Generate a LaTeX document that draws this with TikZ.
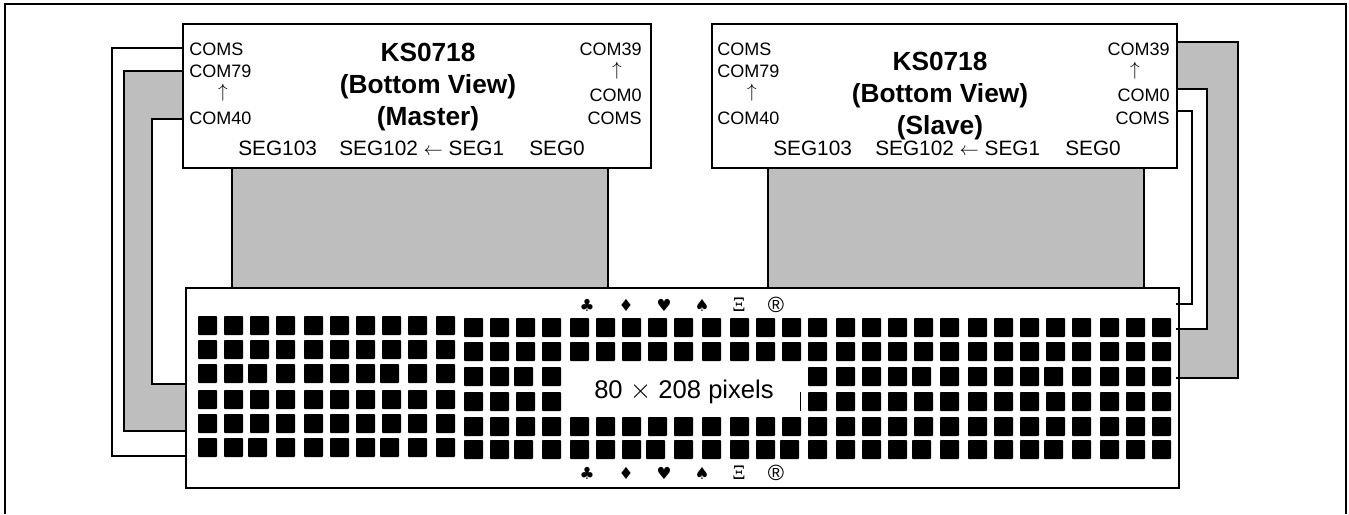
\documentclass[tikz,border=0pt]{standalone}
\usepackage{fontspec}
\setmainfont{Liberation Sans}
\newfontfamily\suitfont{DejaVu Sans}
\newfontfamily\serfont{Liberation Serif}
\usetikzlibrary{positioning}

% pixel columns of the panel
\newcommand{\colsA}{198,224,250,276,304,330,356,382,408,436}
\newcommand{\colsAshift}{198,224,248,276,304,330,356,380,408,436}
\newcommand{\colsB}{464,490,516,542,570,596,622,648,674,702,730,756,782,808,836,862,888,914,940,968,994,1020,1046,1072,1100,1126,1152}
\newcommand{\colsBshift}{464,490,514,542,570,596,622,646,674,702,730,756,780,808,836,862,888,912,940,968,994,1020,1044,1072,1100,1126,1152}
\newcommand{\colsBgap}{464,490,516,542,808,836,862,888,914,940,968,994,1020,1046,1072,1100,1126,1152}
\newcommand{\colsBgapshift}{464,490,514,542,808,836,862,888,912,940,968,994,1020,1044,1072,1100,1126,1152}

\begin{document}
\begin{tikzpicture}[
  x=0.75pt, y=-0.75pt,
  chip/.style={draw, line width=1.6pt, fill=white, inner sep=0pt, outer sep=0pt,
               minimum height=108pt},
  flatcable/.style={draw, line width=1.6pt, fill=cablegray, inner sep=0pt, outer sep=0pt,
               minimum width=282pt, minimum height=90pt},
  cable/.style={draw, line width=1.6pt, fill=cablegray},
  wire/.style={line width=1.6pt},
  pin/.style={inner sep=0pt, font=\fontsize{13.5}{16}\selectfont},
  seg/.style={inner sep=0pt, anchor=west, font=\fontsize{15.6}{18}\selectfont},
  chipname/.style={inner sep=0pt, align=center, font=\fontsize{19.7}{24}\selectfont\bfseries},
  glyph/.style={inner sep=0pt, font=\fontsize{12.5}{14}\selectfont},
  pixel/.style={fill=black, rounded corners=0.6pt},
]
\definecolor{cablegray}{gray}{0.745}
\useasboundingbox (0,0) rectangle (1349,514);

% outer frame
\draw[line width=1.6pt] (5,514) -- (5,4) -- (1346,4) -- (1346,514);

% wide cables, their ends hide behind the chips
\draw[cable] (200,71) -- (124,71) -- (124,431) -- (200,431) -- (200,384)
  -- (152,384) -- (152,119) -- (200,119) -- cycle;
\draw[cable] (1160,42) -- (1238,42) -- (1238,378) -- (1165,378) -- (1165,329)
  -- (1207,329) -- (1207,89) -- (1160,89) -- cycle;

\node[chip, minimum width=351pt, anchor=north west] (master) at (183,24) {};
\node[chip, minimum width=348.75pt, right=45.75pt of master] (slave) {};
\node[flatcable, below=0pt of master, xshift=2.25pt] (masterfpc) {};
\node[flatcable, below=0pt of slave, xshift=8.6pt] (slavefpc) {};
\node[chip, minimum width=744.75pt, minimum height=150pt, anchor=north west] (panel) at (186,288) {};

% thin wires
\coordinate (mcoms) at (183,48);
\coordinate (pcoms) at (186,456);
\coordinate (mbend) at (112,456);
\draw[wire] (mcoms) -| (mbend) -- (pcoms);
\coordinate (scoms) at (1177,111);
\coordinate (pcomsr) at (1176,304);
\coordinate (sbend) at (1192,304);
\draw[wire] (scoms) -| (sbend) -- (pcomsr);
\coordinate (tickA) at (1176,329);
\coordinate (tickB) at (1176,378);
\draw[wire] (tickA) -- (panel.east |- tickA);
\draw[wire] (tickB) -- (panel.east |- tickB);

% master labels
\node[chipname] (mastername) at (428,87) {KS0718\\(Bottom View)\\(Master)};
\node[pin, anchor=west] (mcomsl) at (189,49) {COMS};
\node[pin, anchor=west] (mcoma) at (189,71) {COM79};
\node[pin] (mup) at (223,93) {$\uparrow$};
\node[pin, anchor=west] (mcomb) at (189,118) {COM40};
\node[pin, anchor=east] (mcomc) at (642,49) {COM39};
\node[pin] (mupr) at (617,71) {$\uparrow$};
\node[pin, anchor=east] (mcomd) at (642,95) {COM0};
\node[pin, anchor=east] (mcomsr) at (642,118) {COMS};
\node[seg] (mseglast) at (238,148) {SEG103};
\node[seg] (msegmid) at (339,148) {SEG102 $\leftarrow$ SEG1};
\node[seg] (msegzero) at (529,148) {SEG0};

% slave labels
\node[chipname] (slavename) at (940,96) {KS0718\\(Bottom View)\\(Slave)};
\node[pin, anchor=west] (scomsl) at (717,49) {COMS};
\node[pin, anchor=west] (scoma) at (717,71) {COM79};
\node[pin] (sup) at (752,93) {$\uparrow$};
\node[pin, anchor=west] (scomb) at (717,118) {COM40};
\node[pin, anchor=east] (scomc) at (1170,49) {COM39};
\node[pin] (supr) at (1135,71) {$\uparrow$};
\node[pin, anchor=east] (scomd) at (1170,95) {COM0};
\node[pin, anchor=east] (scomsr) at (1170,118) {COMS};
\node[seg] (sseglast) at (773,148) {SEG103};
\node[seg] (ssegmid) at (875,148) {SEG102 $\leftarrow$ SEG1};
\node[seg] (ssegzero) at (1065,148) {SEG0};

% pixels
\foreach \ya/\yb in {316/318,340/342,414/417} {
  \foreach \cx in \colsA \fill[pixel] (\cx,\ya) rectangle ++(19,19);
  \foreach \cx in \colsB \fill[pixel] (\cx,\yb) rectangle ++(19,19);
}
\foreach \cx in \colsAshift {
  \fill[pixel] (\cx,364) rectangle ++(19,19);
  \fill[pixel] (\cx,438) rectangle ++(19,19);
}
\foreach \cx in \colsA \fill[pixel] (\cx,390) rectangle ++(19,19);
\foreach \cx in \colsBgapshift \fill[pixel] (\cx,367) rectangle ++(19,19);
\foreach \cx in \colsBgap \fill[pixel] (\cx,392) rectangle ++(19,19);
\foreach \cx in \colsBshift \fill[pixel] (\cx,440) rectangle ++(19,19);
\draw[line width=0.75pt] (800,392) -- (800,411);

\node[inner sep=0pt, font=\fontsize{19.2}{22}\selectfont] (panelsize) at (684,392) {80 $\times$ 208 pixels};

% glyph rows above and below the pixels
\foreach \gy in {305,473} {
  \node[glyph] (club\gy) at (587,\gy) {\suitfont ♣};
  \node[glyph] (diam\gy) at (626,\gy) {\suitfont ♦};
  \node[glyph] (heart\gy) at (664,\gy) {\suitfont ♥};
  \node[glyph] (spade\gy) at (702,\gy) {\suitfont ♠};
  \node[glyph, font=\fontsize{15.5}{16}\selectfont] (xi\gy) at (739,\gy) {\serfont Ξ};
  \node[glyph, font=\fontsize{16.5}{17}\selectfont] (reg\gy) at (776,\gy) {®};
}
\end{tikzpicture}
\end{document}
